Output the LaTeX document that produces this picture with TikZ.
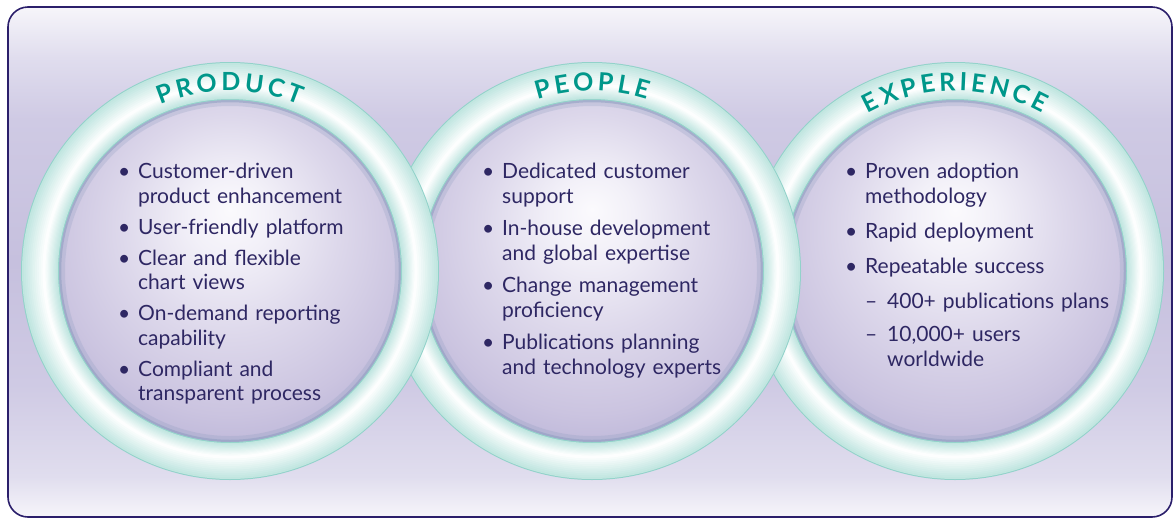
\documentclass[tikz,border=0pt]{standalone}
\usepackage{fontspec}
\setmainfont{Lato}
\newfontfamily\titlefont[WordSpace=0.6]{Lato}
\usepackage{enumitem}
\usetikzlibrary{decorations.text}
\definecolor{navytext}{HTML}{2E2763}
\definecolor{framenavy}{HTML}{2B1F6B}
\definecolor{titleteal}{HTML}{00978A}
\definecolor{pnlW}{HTML}{F6F5FA}
\definecolor{pnlL}{HTML}{E0DDEE}
\definecolor{pnlM}{HTML}{CFCAE4}
\definecolor{pnlD}{HTML}{C6C0DE}
\definecolor{discA}{HTML}{FBFAFD}
\definecolor{discB}{HTML}{F2F0F8}
\definecolor{discC}{HTML}{DDD8EB}
\definecolor{discD}{HTML}{CBC4E0}
\definecolor{discE}{HTML}{BDB7D9}
\definecolor{discF}{HTML}{A9AECB}
\definecolor{rimblue}{HTML}{8E9DC0}
\definecolor{ringteal}{HTML}{9FD8D0}
\definecolor{ringedge}{HTML}{92D2CA}
\pgfdeclareverticalshading{panelshade}{100bp}{color(0bp)=(pnlW); color(25bp)=(pnlW); color(29bp)=(pnlL); color(38bp)=(pnlM); color(50bp)=(pnlD); color(64bp)=(pnlM); color(70bp)=(pnlL); color(75bp)=(pnlW); color(100bp)=(pnlW)}
\pgfdeclareradialshading{discshade}{\pgfpoint{0bp}{9bp}}{color(0bp)=(discA); color(6bp)=(discB); color(16bp)=(discC); color(26bp)=(discD); color(31bp)=(discE); color(35bp)=(discF); color(60bp)=(discF)}
\newcommand\ringtitle{\titlefont\bfseries\fontsize{25}{25}\selectfont\color{titleteal}}
\setlist[itemize]{leftmargin=20pt, labelsep=8pt, itemsep=6.5pt, topsep=0pt, parsep=0pt, partopsep=0pt, label=\textbullet}
\setlist[itemize,2]{leftmargin=22pt, labelwidth=14pt, labelsep=8pt, align=left, itemsep=9pt, topsep=10.5pt, parsep=0pt, partopsep=0pt, label=--}
\tikzset{listtext/.style={text width=300, inner sep=0, align=left, text=navytext, font=\fontsize{21}{24.5}\selectfont, anchor=north west}}
\begin{document}
\begin{tikzpicture}[x=1pt,y=1pt]
\useasboundingbox (0,0) rectangle (1176,-520);
\pgfmathsetmacro\ringr{190}
\pgfmathsetmacro\discr{171}
\shadedraw[shading=panelshade, draw=framenavy, line width=1.6, rounded corners=20] (8,-7) rectangle (1172,-517);
\foreach \cx/\nm in {955/exp,592/peop,230/prod} {
\coordinate (\nm) at (\cx,-271);
\shade[shading=discshade] (\nm) circle (\discr);
\draw[rimblue, line width=6, opacity=.25] (\nm) circle (\discr-3);
\draw[rimblue, line width=2.5, opacity=.55] (\nm) circle (\discr-1);
\draw[ringedge, line width=38] (\nm) circle (\ringr);
\foreach \w in {36,33,...,3} {
\pgfmathsetmacro\mix{35+(36-\w)*1.9}
\pgfmathsetmacro\rr{\ringr-(36-\w)*0.12}
\draw[white!\mix!ringteal, line width=\w] (\nm) circle (\rr);
}
}
\path[decorate, decoration={text along path, text align=center, text={|\ringtitle|P R O D U C T}}] (prod) ++(150:180) arc[start angle=150, end angle=30, radius=180];
\path[decorate, decoration={text along path, text align=center, text={|\ringtitle|P E O P L E}}] (peop) ++(150:180) arc[start angle=150, end angle=30, radius=180];
\path[decorate, decoration={text along path, text align=center, text={|\ringtitle|E X P E R I E N C E}}] (exp) ++(150:180) arc[start angle=150, end angle=30, radius=180];
\node[listtext] (prodlist) at (118,-154) {\begin{itemize}
\item Customer-driven\newline product enhancement
\item User-friendly platform
\item Clear and flexible\newline chart views
\item On-demand reporting\newline capability
\item Compliant and\newline transparent process
\end{itemize}};
\node[listtext] (peoplist) at (482,-154) {\begin{itemize}[itemsep=8pt]
\item Dedicated customer\newline support
\item In-house development\newline and global expertise
\item Change management\newline proficiency
\item Publications planning\newline and technology experts
\end{itemize}};
\node[listtext] (explist) at (845,-154) {\begin{itemize}[itemsep=10.5pt]
\item Proven adoption\newline methodology
\item Rapid deployment
\item Repeatable success
\begin{itemize}
\item 400+ publications plans
\item 10,000+ users\newline worldwide
\end{itemize}
\end{itemize}};
\end{tikzpicture}
\end{document}
